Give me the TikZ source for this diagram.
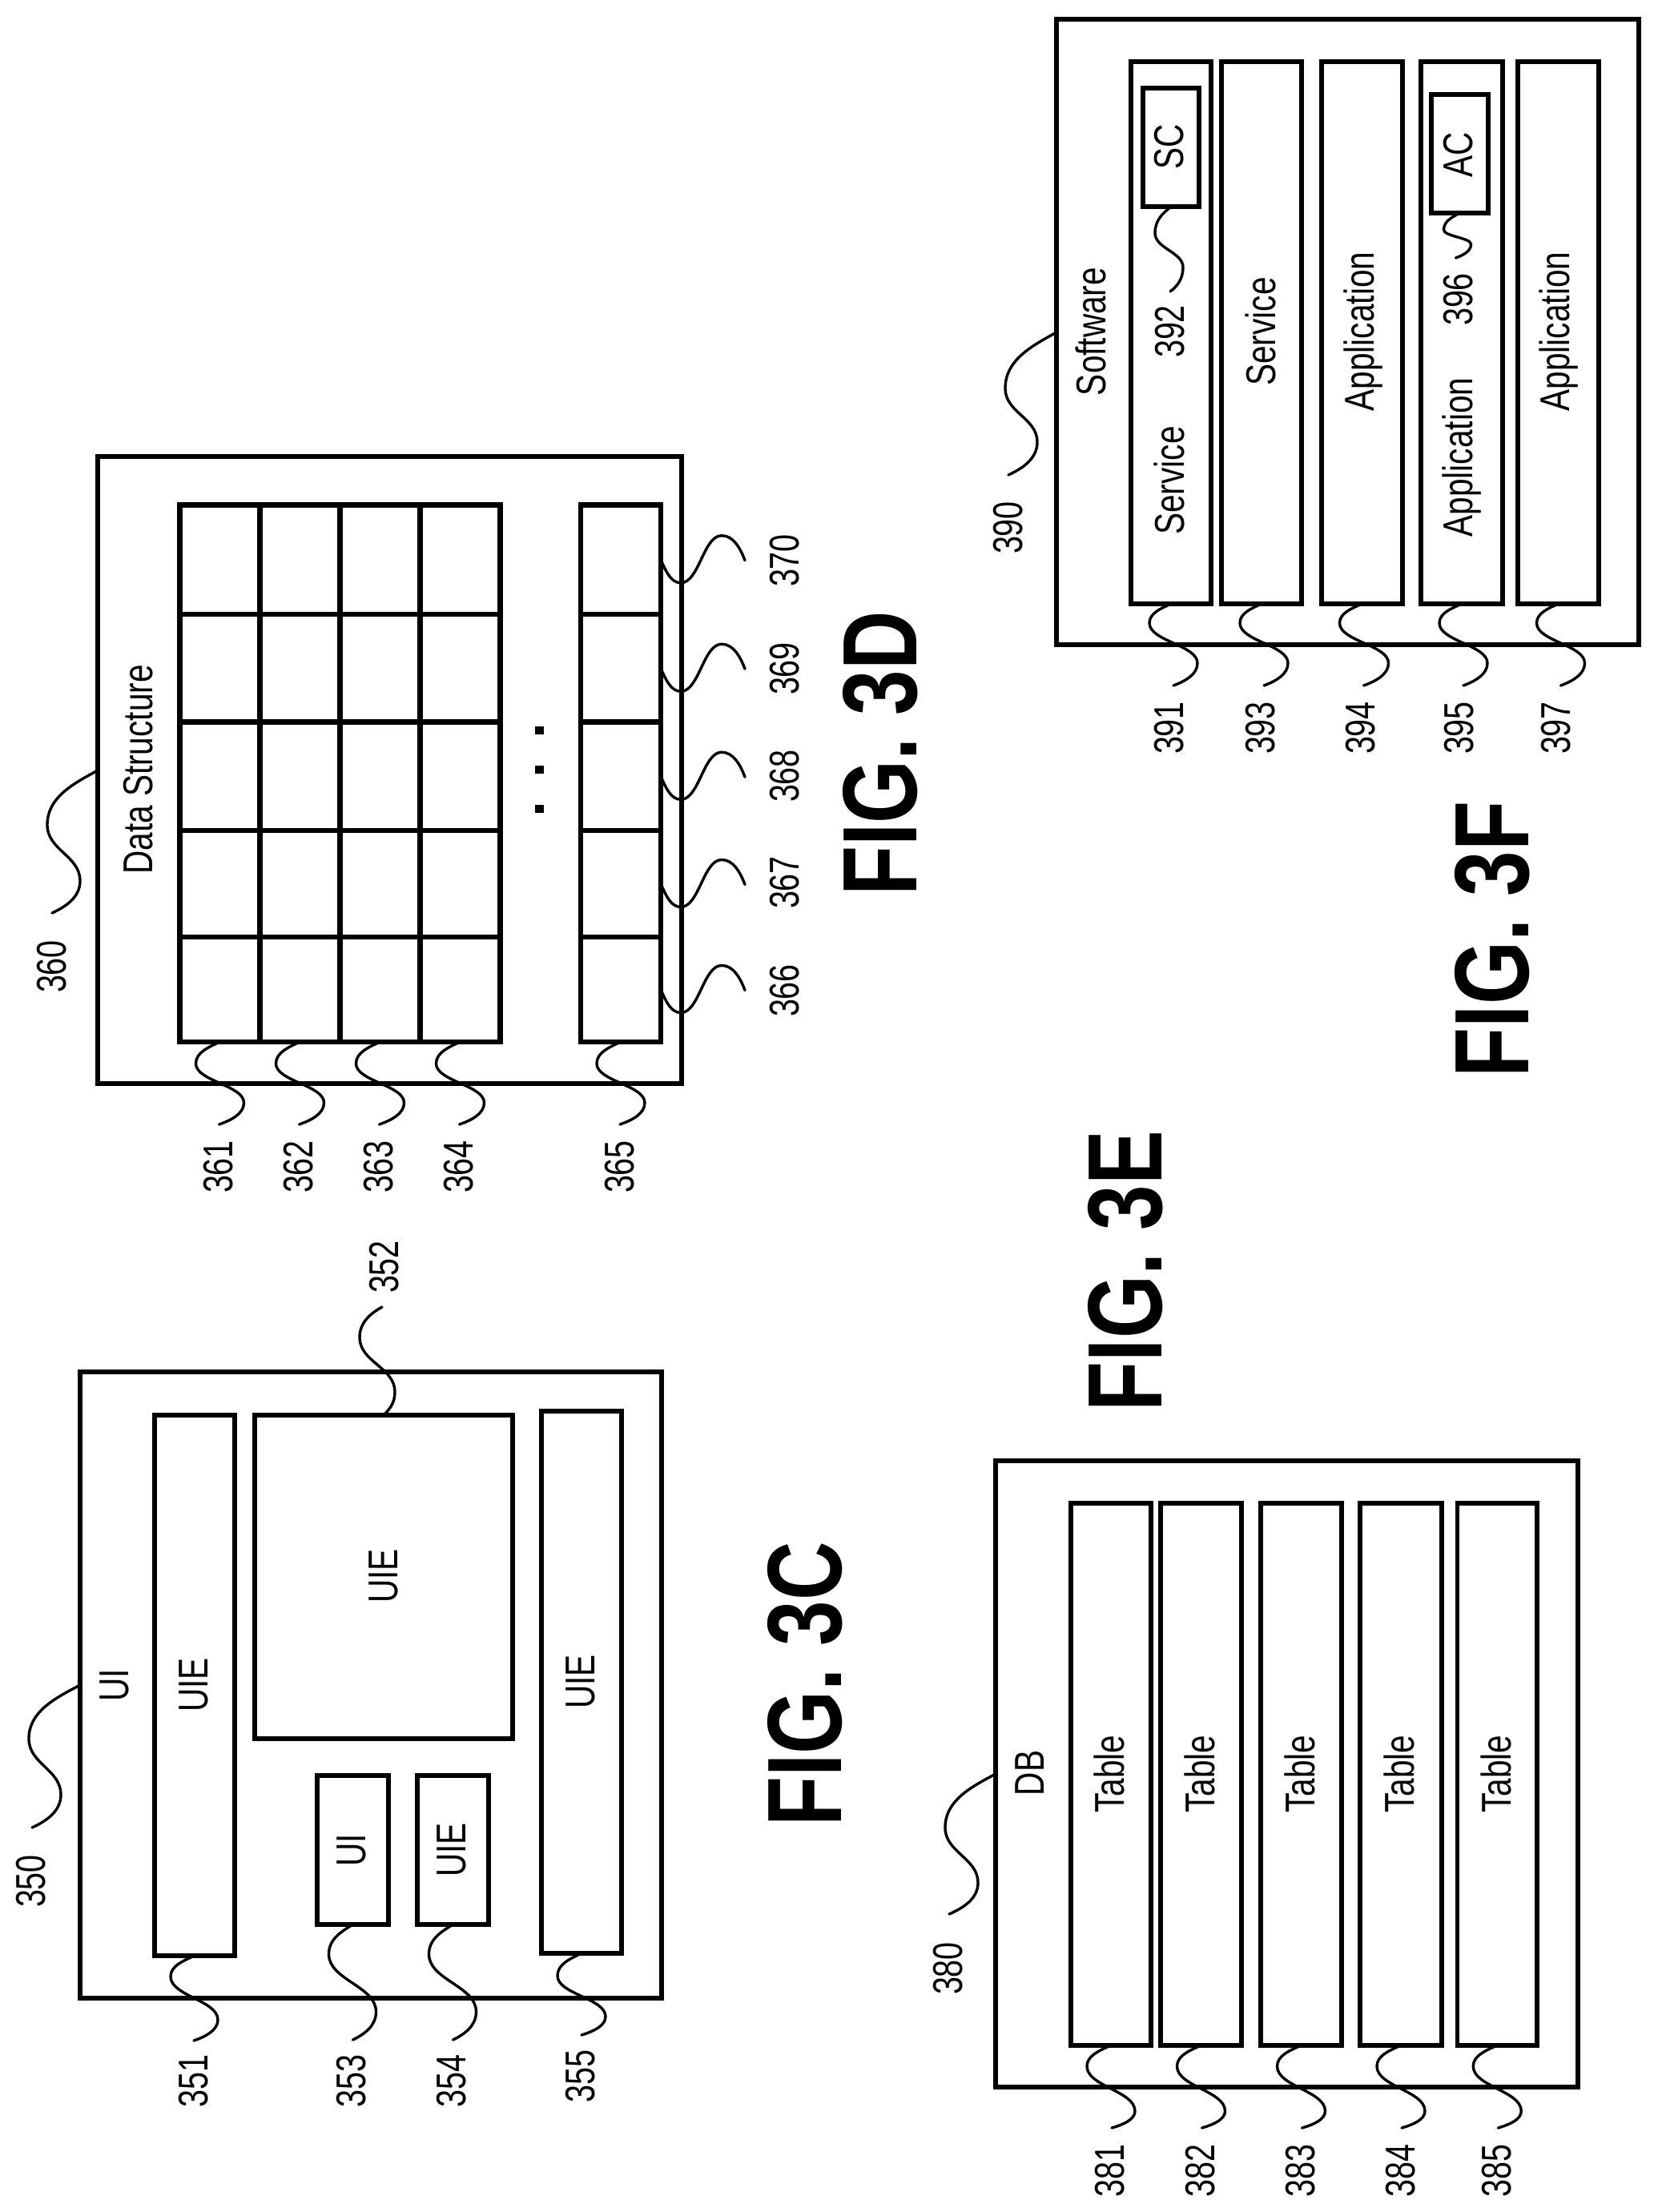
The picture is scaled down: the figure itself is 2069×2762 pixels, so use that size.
\documentclass[tikz,border=0pt]{standalone}
\usepackage{fontspec}
\usetikzlibrary{calc}
\setmainfont{Liberation Sans}
\newfontfamily\labf[FakeStretch=0.78]{Liberation Sans}
\newfontfamily\numf[FakeStretch=0.76]{Liberation Sans}
\newfontfamily\figf[FakeStretch=0.77]{Liberation Sans Bold}
\tikzset{
  boxn/.style={draw=black,line width=2.8pt,fill=none,inner sep=0pt,outer sep=0pt,rectangle},
  gridn/.style={boxn,line width=3.2pt},
  lead/.style={draw=black,line width=1.7pt,line cap=round},
  lab/.style={rotate=90,inner sep=0pt,outer sep=0pt,font=\labf\fontsize{26}{30}\selectfont,text=black},
  num/.style={rotate=90,inner sep=0pt,outer sep=0pt,font=\numf\fontsize{26}{30}\selectfont,text=black},
  figlab/.style={rotate=90,inner sep=0pt,outer sep=0pt,font=\figf\fontsize{66}{72}\selectfont,text=black},
  dotn/.style={fill=black,inner sep=0pt,outer sep=0pt,minimum width=5.5pt,minimum height=5pt,rectangle}
}
% box by its corners, in reference pixels
\newcommand\bx[6][boxn]{\node[#1,minimum width={(#5-#3)*0.5pt},minimum height={(#6-#4)*0.5pt}] (#2) at ({(#3+#5)/2},{(#4+#6)/2}) {};}
% vertical wiggle: start, first extreme, second extreme, end (relative)
\newcommand\wig[8]{\draw[lead] (#1) .. controls ($(#1)+({#2*0.5},{#3*0.25})$) and ($(#1)+(#2,{#3*0.5})$) .. ($(#1)+(#2,#3)$)
  .. controls ($(#1)+(#2,{#3+0.45*(#5-#3)})$) and ($(#1)+(#4,{#5-0.45*(#5-#3)})$) .. ($(#1)+(#4,#5)$)
  .. controls ($(#1)+(#4,{#5+0.5*(#7-#5)})$) and ($(#1)+({#6+0.5*(#4-#6)},{#7-0.2*(#7-#5)})$) .. ($(#1)+(#6,#7)$) coordinate (#8);}
% horizontal wiggle
\newcommand\wigh[8]{\draw[lead] (#1) .. controls ($(#1)+({#2*0.25},{#3*0.5})$) and ($(#1)+({#2*0.5},#3)$) .. ($(#1)+(#2,#3)$)
  .. controls ($(#1)+({#2+0.45*(#4-#2)},#3)$) and ($(#1)+({#4-0.45*(#4-#2)},#5)$) .. ($(#1)+(#4,#5)$)
  .. controls ($(#1)+({#4+0.5*(#6-#4)},#5)$) and ($(#1)+({#6-0.2*(#6-#4)},{#7+0.5*(#5-#7)})$) .. ($(#1)+(#6,#7)$) coordinate (#8);}
\begin{document}
\begin{tikzpicture}[x=0.5pt,y=-0.5pt]
\useasboundingbox (0,0) rectangle (2069,2762);
% ---------- FIG 3C
\bx{o3c}{100}{1713}{826}{2495}
\bx{b351}{193}{1767}{293}{2442}
\bx{b352}{318}{1767}{640}{2171}
\bx{b353}{396}{2217}{485}{2403}
\bx{b354}{521}{2217}{610}{2403}
\bx{b355}{676}{1762}{776}{2439}
\node[lab] (t350) at (143,2104) {UI};
\node[lab] (t351) at (242,2104) {UIE};
\node[lab] (t352) at (479,1968) {UIE};
\node[lab] (t353) at (439,2310) {UI};
\node[lab] (t354) at (563.5,2310) {UIE};
\node[lab] (t355) at (725,2100) {UIE};
\node[num] (l350) at (39,2349) {350};
\node[num] (l351) at (242,2598) {351};
\node[num] (l352) at (480,1582) {352};
\node[num] (l353) at (439,2598) {353};
\node[num] (l354) at (563.5,2598) {354};
\node[num] (l355) at (725,2592) {355};
\coordinate (s350) at (100,2104);
\wig{s350}{-64}{67}{-24}{137}{-60}{178}{e350}
\wig{b351.south}{-30}{26}{29}{80}{-1}{106}{e351}
\wig{b352.north}{14}{-29}{-30}{-97}{-2}{-135}{e352}
\wig{b353.south}{-30}{37}{29}{109}{0}{144}{e353}
\wig{b354.south}{-30}{37}{29}{109}{0}{144}{e354}
\wig{b355.south}{-30}{28}{30}{79}{0}{102}{e355}
\node[figlab] (f3c) at (1005,2103) {FIG. 3C};
% ---------- FIG 3D
\bx{o3d}{122}{570}{851}{1353}
\foreach \xa/\xb/\c in {224.5/324.5/1,324.5/424.5/2,424.5/524.5/3,524.5/624.5/4,725/825/x}
  \foreach \ya/\yb/\r in {630.5/767/1,767/901.5/2,901.5/1037/3,1037/1170/4,1170/1301/5}
    {\bx[gridn]{cell\c-\r}{\xa}{\ya}{\xb}{\yb}}
\node[lab] (t360) at (173,961) {Data Structure};
\node[dotn] (d1) at (673,912) {};
\node[dotn] (d2) at (673,961) {};
\node[dotn] (d3) at (673,1010) {};
\node[num] (l360) at (65,1207) {360};
\node[num] (l361) at (273,1457) {361};
\node[num] (l362) at (373,1457) {362};
\node[num] (l363) at (473,1457) {363};
\node[num] (l364) at (573,1457) {364};
\node[num] (l365) at (774,1457) {365};
\node[num] (l366) at (980,1237) {366};
\node[num] (l367) at (980,1102) {367};
\node[num] (l368) at (980,969) {368};
\node[num] (l369) at (980,835) {369};
\node[num] (l370) at (980,700) {370};
\coordinate (s360) at (122,962);
\wig{s360}{-63}{68}{-22}{138}{-57}{178}{e360}
\wig{cell1-5.south}{-30}{27}{30}{76}{-1}{103}{e361}
\wig{cell2-5.south}{-30}{27}{30}{76}{-1}{103}{e362}
\wig{cell3-5.south}{-30}{27}{30}{76}{-1}{103}{e363}
\wig{cell4-5.south}{-30}{27}{30}{76}{-1}{103}{e364}
\wig{cellx-5.south}{-30}{27}{30}{76}{-1}{103}{e365}
\wigh{cellx-5.east}{25}{29}{76}{-30}{105}{1}{e366}
\wigh{cellx-4.east}{25}{29}{76}{-30}{105}{1}{e367}
\wigh{cellx-3.east}{25}{29}{76}{-30}{105}{1}{e368}
\wigh{cellx-2.east}{25}{29}{76}{-30}{105}{1}{e369}
\wigh{cellx-1.east}{25}{29}{76}{-30}{105}{1}{e370}
\node[figlab] (f3d) at (1099,941) {FIG. 3D};
% ---------- FIG 3E
\bx{o3e}{1243}{1824}{1970}{2606}
\bx{b381}{1337}{1877}{1437}{2554}
\bx{b382}{1449}{1877}{1550}{2554}
\bx{b383}{1574}{1877}{1675}{2554}
\bx{b384}{1698}{1877}{1800}{2554}
\bx{b385}{1819.5}{1877}{1919}{2554}
\node[lab] (t380) at (1286,2214) {DB};
\node[lab] (t381) at (1385,2215) {Table};
\node[lab] (t382) at (1498,2215) {Table};
\node[lab] (t383) at (1623,2215) {Table};
\node[lab] (t384) at (1747,2215) {Table};
\node[lab] (t385) at (1868,2215) {Table};
\node[num] (l380) at (1184,2458) {380};
\node[num] (l381) at (1386,2710) {381};
\node[num] (l382) at (1499,2710) {382};
\node[num] (l383) at (1624,2710) {383};
\node[num] (l384) at (1749,2710) {384};
\node[num] (l385) at (1869,2710) {385};
\coordinate (s380) at (1243,2215);
\wig{s380}{-63}{67}{-22}{136}{-58}{175}{e380}
\wig{b381.south}{-30}{26}{30}{82}{1}{103}{e381}
\wig{b382.south}{-30}{26}{30}{82}{1}{103}{e382}
\wig{b383.south}{-30}{26}{30}{82}{1}{103}{e383}
\wig{b384.south}{-30}{26}{30}{82}{1}{103}{e384}
\wig{b385.south}{-30}{26}{30}{82}{1}{103}{e385}
\node[figlab] (f3e) at (1405,1587) {FIG. 3E};
% ---------- FIG 3F
\bx{o3f}{1319}{24}{2046}{805}
\bx{b391}{1412}{77}{1512}{754}
\bx{b393}{1525}{77}{1625}{754}
\bx{b394}{1650}{77}{1751}{754}
\bx{b395}{1774}{77}{1876}{754}
\bx{b397}{1895}{77}{1996}{754}
\bx{b392}{1427}{110}{1497}{258}
\bx{b396}{1787}{118}{1858}{266}
\node[lab] (t390) at (1362,414) {Software};
\node[lab] (t391) at (1459.5,600) {Service};
\node[lab] (t392) at (1459.5,183) {SC};
\node[lab] (t393) at (1574,414) {Service};
\node[lab] (t394) at (1702,414) {Application};
\node[lab] (t395) at (1825,571) {Application};
\node[lab] (t396) at (1821,193) {AC};
\node[lab] (t397) at (1946,414) {Application};
\node[num] (l390) at (1259,659) {390};
\node[num] (l391) at (1460,909) {391};
\node[num] (l392) at (1461,414) {392};
\node[num] (l393) at (1574,909) {393};
\node[num] (l394) at (1699,909) {394};
\node[num] (l395) at (1822,909) {395};
\node[num] (l396) at (1821,374) {396};
\node[num] (l397) at (1943,909) {397};
\coordinate (s390) at (1319,415);
\wig{s390}{-64}{70}{-24}{137}{-60}{178}{e390}
\wig{b391.south}{-27}{24}{33}{74}{3}{102}{e391}
\wig{b393.south}{-27}{24}{33}{74}{3}{102}{e393}
\wig{b394.south}{-28}{24}{33}{74}{2}{102}{e394}
\wig{b395.south}{-28}{24}{32}{74}{2}{102}{e395}
\wig{b397.south}{-27}{24}{33}{74}{3}{102}{e397}
\wig{b392.south}{-20}{33}{15}{76}{-1}{106}{e392}
\wig{b396.south}{-20}{21}{14}{39}{-5}{56}{e396}
\node[figlab] (f3f) at (1863,1173) {FIG. 3F};
\end{tikzpicture}
\end{document}
